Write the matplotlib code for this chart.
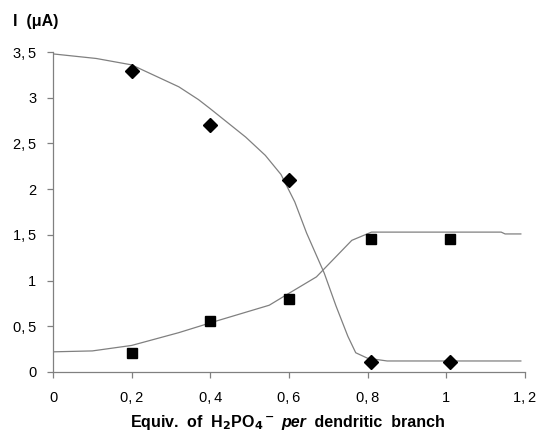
import numpy as np
import matplotlib
matplotlib.use('Agg')
import matplotlib.pyplot as plt
from matplotlib.ticker import FuncFormatter

plt.rcParams['font.family'] = ['Liberation Sans', 'DejaVu Sans']

# measured points
x_pts = [0.2, 0.4, 0.6, 0.81, 1.01]
diamond_y = [3.29, 2.70, 2.10, 0.11, 0.11]
square_y = [0.21, 0.56, 0.80, 1.46, 1.46]

# fitted curves
fall_x = [0.0, 0.11, 0.2, 0.32, 0.37, 0.40, 0.49, 0.54, 0.58, 0.615, 0.645, 0.69, 0.72, 0.75, 0.77, 0.80, 0.85, 1.0, 1.19]
fall_y = [3.48, 3.43, 3.36, 3.12, 2.98, 2.88, 2.57, 2.37, 2.16, 1.86, 1.52, 1.08, 0.72, 0.39, 0.21, 0.15, 0.12, 0.12, 0.12]
rise_x = [0.0, 0.1, 0.2, 0.32, 0.41, 0.55, 0.60, 0.67, 0.76, 0.81, 1.0, 1.14, 1.15, 1.19]
rise_y = [0.22, 0.23, 0.29, 0.43, 0.55, 0.73, 0.86, 1.04, 1.44, 1.53, 1.53, 1.53, 1.51, 1.51]

fig = plt.figure(figsize=(5.41, 4.34), dpi=100)
ax = fig.add_axes([0.098, 0.143, 0.872, 0.737])

ax.plot(fall_x, fall_y, color='#808080', lw=0.9)
ax.plot(rise_x, rise_y, color='#808080', lw=0.9)
ax.plot(x_pts, diamond_y, 'D', color='black', ms=7.5, ls='none')
ax.plot(x_pts, square_y, 's', color='black', ms=7.5, ls='none')

ax.set_xlim(0, 1.2)
ax.set_ylim(0, 3.5)
ax.set_xticks(np.arange(0, 1.21, 0.2))
ax.set_yticks(np.arange(0, 3.51, 0.5))

def comma(v, pos):
    s = ('%.1f' % v).rstrip('0').rstrip('.')
    return s.replace('.', ',\u2009')

ax.xaxis.set_major_formatter(FuncFormatter(comma))
ax.yaxis.set_major_formatter(FuncFormatter(comma))

for s in ['top', 'right']:
    ax.spines[s].set_visible(False)
for s in ['left', 'bottom']:
    ax.spines[s].set_color('#808080')
    ax.spines[s].set_linewidth(0.9)
ax.tick_params(direction='out', length=4, width=0.9, color='#808080', labelsize=10.5)
ax.tick_params(axis='x', pad=10)
ax.tick_params(axis='y', pad=8)

fig.text(0.024, 0.95, 'I  (\u03bcA)', fontsize=11.5, fontweight='bold', va='center')

# x label built from pieces so that "per" can be bold italic
parts = [('Equiv.  of  H$_{\\bf 2}$PO$_{\\bf 4}$$^{\\bf -}$ ', 'normal'),
         ('per', 'italic'),
         (' dendritic  branch', 'normal')]
fig.canvas.draw()
r = fig.canvas.get_renderer()
xs = 0.240
for txt, st in parts:
    t = fig.text(xs, 0.027, txt, fontsize=11.5, fontweight='bold', style=st, va='center', ha='left')
    w = t.get_window_extent(r).width / fig.bbox.width
    xs += w + 0.006

fig.savefig('out.png', dpi=100)
